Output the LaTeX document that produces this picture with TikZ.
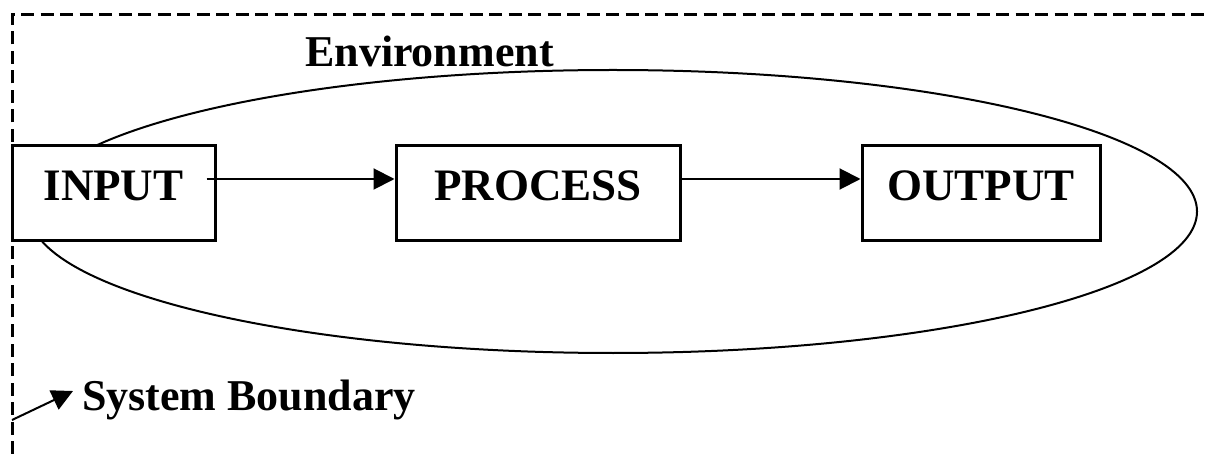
\documentclass[tikz,border=0pt]{standalone}
\usepackage{fontspec}
\setmainfont{Liberation Serif}
\usetikzlibrary{arrows.meta,shapes.geometric}

\tikzset{
  stagebox/.style={draw, fill=white, line width=3pt, rectangle, inner sep=0pt,
    minimum height=95pt, text height=30pt, text depth=15pt,
    font=\fontsize{45}{54}\selectfont\bfseries},
  envring/.style={draw, line width=2pt, ellipse, inner sep=0pt,
    minimum width=1168pt, minimum height=283pt},
  flow/.style={line width=2pt, -{Triangle[length=21pt,width=21pt]}},
  boundary/.style={line width=3pt, dash pattern=on 13pt off 6.5pt},
  caption/.style={inner sep=0pt, anchor=base west,
    font=\fontsize{44}{52}\selectfont\bfseries}
}

\begin{document}
\begin{tikzpicture}[x=1pt, y=-1pt]
  \useasboundingbox (0,0) rectangle (1210,454);

  % system boundary (dashed frame, open to the right and bottom)
  \draw[boundary] (12,454) -- (12,14.5) -- (1210,14.5);

  % environment
  \node[envring] (env) at (613,211.5) {};
  \node[caption] (envtext) at (305,67) {Environment};

  % stages (filled, so they sit on top of the environment outline)
  \node[stagebox, minimum width=203pt] (input)   at (113.5,193.5) {INPUT};
  \node[stagebox, minimum width=284pt] (process) at (538,193.5)   {PROCESS};
  \node[stagebox, minimum width=238pt] (output)  at (981,193.5)   {OUTPUT};

  % flow between stages
  \draw[flow] ([xshift=-10pt,yshift=14.5pt]input.east) -- ([yshift=14.5pt]process.west);
  \draw[flow] ([yshift=14.5pt]process.east) -- ([yshift=14.5pt]output.west);

  % boundary label with pointer
  \node[caption] (sbtext) at (82,410) {System Boundary};
  \coordinate (sbtail) at (12,420);
  \coordinate (sbtip) at (73,391);
  \draw[flow] (sbtail) -- (sbtip);
\end{tikzpicture}
\end{document}
